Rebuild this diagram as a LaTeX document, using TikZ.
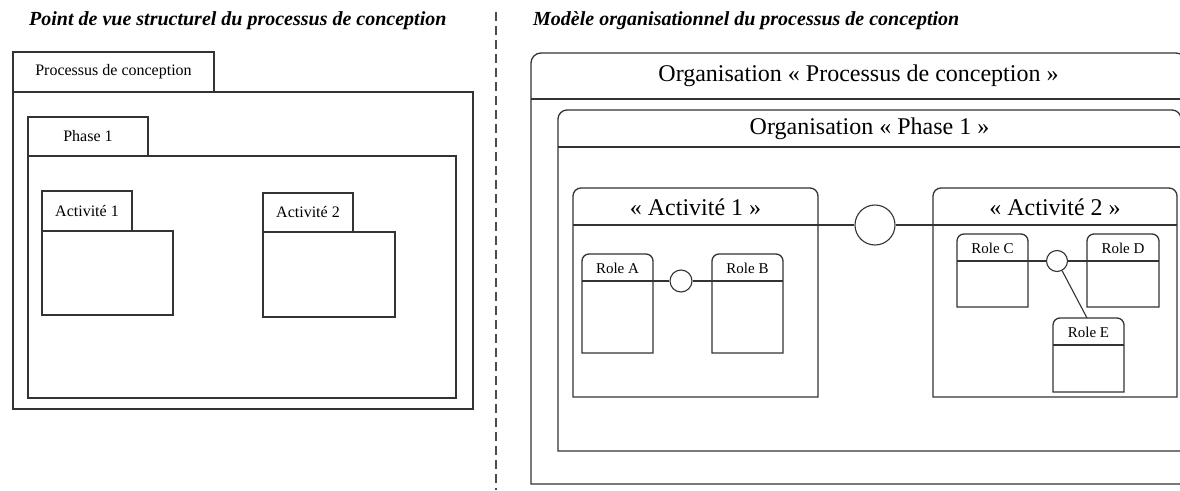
\documentclass[tikz,border=0pt]{standalone}
\usepackage{fontspec}
\setmainfont{Liberation Serif}
\usepackage{tikz}
\usetikzlibrary{positioning}
% box with rounded top corners and a header line: [radius]{left}{top}{right}{bottom}{header}
\newcommand{\topbox}[6][8pt]{%
  \draw[frame] (#2,#5) [rounded corners=#1] -- (#2,#3) -- (#4,#3) [sharp corners] -- (#4,#5) -- cycle;
  \draw[frame] (#2,#6) -- (#4,#6);}

\begin{document}
\begin{tikzpicture}[
  x=1pt, y=-1pt,
  frame/.style={line width=1.3pt, black!80},
  link/.style={line width=1.1pt, black!80},
  plabel/.style={font=\fontsize{16}{18}\selectfont, inner sep=0pt},
  olabel/.style={font=\fontsize{24}{28}\selectfont, inner sep=0pt},
  rlabel/.style={font=\fontsize{15}{17}\selectfont, inner sep=0pt},
  title/.style={font=\fontsize{20}{23}\selectfont\bfseries\itshape, anchor=west, inner sep=0pt},
  joint/.style={circle, draw, line width=1.1pt, black!80, fill=white, inner sep=0pt}
]
  \useasboundingbox (0,0) rectangle (1180,490);
  \clip (0,0) rectangle (1180,490);

  % Titles and separator
  \node[title] (titleL) at (29,21) {Point de vue structurel du processus de conception};
  \node[title] (titleR) at (533,21) {Modèle organisationnel du processus de conception};
  \draw[line width=1.1pt, black!70, dash pattern=on 9pt off 5pt] (496,12) -- (496,490);

  % Structural view: packages
  \draw[frame] (13,92) rectangle (473,409);
  \draw[frame] (13,52) rectangle (214,92);
  \node[plabel] (pkgProc) at (113.5,72) {Processus de conception};

  \draw[frame] (28,156) rectangle (456,398);
  \draw[frame] (28,117) rectangle (148,156);
  \node[plabel] (pkgPhase) at (88,136.5) {Phase 1};

  \draw[frame] (42,231) rectangle (173,315);
  \draw[frame] (42,191) rectangle (132,231);
  \node[plabel] (pkgAct1) at (87,211) {Activité 1};

  \draw[frame] (263,232) rectangle (395,317);
  \draw[frame] (263,193) rectangle (353,232);
  \node[plabel] (pkgAct2) at (308,212.5) {Activité 2};

  % Organisational model
  \topbox[10pt]{531}{53}{1186}{484}{99}
  \node[olabel] (orgProc) at (858.5,76) {Organisation « Processus de conception »};

  \topbox[9pt]{558}{110}{1181}{451}{147}
  \node[olabel] (orgPhase) at (869.5,128.5) {Organisation « Phase 1 »};

  \topbox{573}{188}{818}{397}{225}
  \node[olabel] (orgAct1) at (695.5,207) {« Activité 1 »};
  \coordinate (act1E) at (818,225);

  \topbox{933}{188}{1177}{397}{225}
  \node[olabel] (orgAct2) at (1055,207) {« Activité 2 »};
  \coordinate (act2W) at (933,225);

  % Roles of activity 1
  \topbox[7pt]{582}{254}{653}{353}{281}
  \node[rlabel] (roleA) at (617.5,268.5) {Role A};
  \coordinate (roleAE) at (653,281);
  \topbox[7pt]{712}{254}{783}{353}{281}
  \node[rlabel] (roleB) at (747.5,268.5) {Role B};
  \coordinate (roleBW) at (712,281);

  % Roles of activity 2
  \topbox[7pt]{957}{234}{1028}{307}{261}
  \node[rlabel] (roleC) at (992.5,248.5) {Role C};
  \coordinate (roleCE) at (1028,261);
  \topbox[7pt]{1087}{234}{1159}{307}{261}
  \node[rlabel] (roleD) at (1123,248.5) {Role D};
  \coordinate (roleDW) at (1087,261);
  \topbox[7pt]{1053}{318}{1124}{392}{345}
  \node[rlabel] (roleE) at (1088.5,332.5) {Role E};
  \coordinate (roleEN) at (1087,318);

  % Interaction links
  \node[joint, minimum size=40pt] (linkAct) at (875,225) {};
  \draw[link] (act1E) -- (linkAct);
  \draw[link] (linkAct) -- (act2W);

  \node[joint, minimum size=22pt] (linkAB) at (681,281) {};
  \draw[link] (roleAE) -- (linkAB);
  \draw[link] (linkAB) -- (roleBW);

  \node[joint, minimum size=21pt] (linkCDE) at (1057,261) {};
  \draw[link] (roleCE) -- (linkCDE);
  \draw[link] (linkCDE) -- (roleDW);
  \draw[link] (linkCDE) -- (roleEN);
\end{tikzpicture}
\end{document}
